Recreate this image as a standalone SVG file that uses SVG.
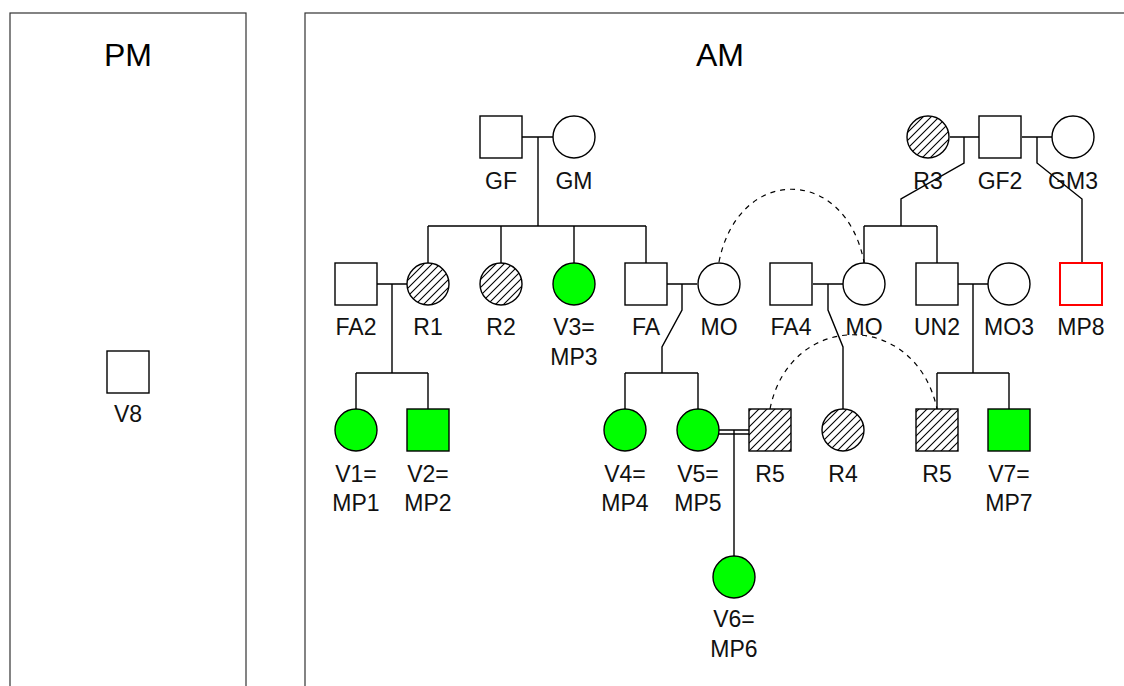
<svg xmlns="http://www.w3.org/2000/svg" width="1124" height="686" viewBox="0 0 1124 686">
<defs>
<pattern id="hatch" patternUnits="userSpaceOnUse" width="8" height="8">
<path d="M-1,1 L1,-1 M0,8 L8,0 M7,9 L9,7" stroke="#000" stroke-width="1.1"/>
</pattern>
</defs>
<style>
.box{fill:none;stroke:#333;stroke-width:1.2}
.title{font-family:"Liberation Sans",Arial,sans-serif;font-size:32px;fill:#000;text-anchor:middle}
.lbl{font-family:"Liberation Sans",Arial,sans-serif;font-size:23px;fill:#111;text-anchor:middle}
.s{fill:#fff;stroke:#000;stroke-width:1.4}
.g{fill:#00ff00;stroke:#000;stroke-width:1.4}
.h{fill:url(#hatch);stroke:#000;stroke-width:1.4}
.r{fill:#fff;stroke:#ff0000;stroke-width:2}
.ln{fill:none;stroke:#000;stroke-width:1.4}
.dash{fill:none;stroke:#000;stroke-width:1.2;stroke-dasharray:5,5}
</style>
<rect fill="#fff" x="0" y="0" width="1124" height="686"/>
<g id="pm-panel">
<rect class="box" x="10" y="13" width="236" height="700"/>
<text class="title" x="128" y="66">PM</text>
</g>
<g id="am-panel">
<rect class="box" x="305" y="13" width="840" height="700"/>
<text class="title" x="720" y="66">AM</text>
</g>
<g id="connectors">
<path class="ln" d="M522,137 H553 M538,137 V226 M428,226 H646 M428,226 V263 M501,226 V263 M574,226 V263 M646,226 V263"/>
<path class="ln" d="M950,137 H979 M964,137 V163 L901,199 V226 M864,226 H937 M864,226 V263 M937,226 V263"/>
<path class="ln" d="M1022,137 H1052 M1037,137 V163 L1082,199 V263"/>
<path class="ln" d="M377,284 H407 M392,284 V373 M356,373 H428 M356,373 V409 M428,373 V409"/>
<path class="ln" d="M667,284 H697 M682,284 V310 L662,347 V373 M625,373 H698 M625,373 V409 M698,373 V409"/>
<path class="ln" d="M813,284 H843 M828,284 V310 L843,347 V409"/>
<path class="ln" d="M958,284 H988 M973,284 V373 M937,373 H1009 M937,373 V409 M1009,373 V409"/>
<path class="ln" d="M719,430 H749 M719,434 H749 M734,430 V556" stroke-width="1.2"/>
<path class="dash" d="M719,262 C738,165 845,165 864,262"/>
<path class="dash" d="M770,409 C790,310 916,310 937,409"/>
</g>
<g id="V8"><rect class="s" x="107" y="351" width="42" height="42"/><text class="lbl" x="128" y="422">V8</text></g>
<g id="GF"><rect class="s" x="480" y="116" width="42" height="42"/><text class="lbl" x="501" y="189">GF</text></g>
<g id="GM"><circle class="s" cx="574" cy="137" r="21"/><text class="lbl" x="574" y="189">GM</text></g>
<g id="R3"><circle class="h" cx="928" cy="137" r="21"/><text class="lbl" x="928" y="189">R3</text></g>
<g id="GF2"><rect class="s" x="979" y="116" width="42" height="42"/><text class="lbl" x="1000" y="189">GF2</text></g>
<g id="GM3"><circle class="s" cx="1073" cy="137" r="21"/><text class="lbl" x="1073" y="189">GM3</text></g>
<g id="FA2"><rect class="s" x="335" y="263" width="42" height="42"/><text class="lbl" x="356" y="335">FA2</text></g>
<g id="R1"><circle class="h" cx="428" cy="284" r="21"/><text class="lbl" x="428" y="335">R1</text></g>
<g id="R2"><circle class="h" cx="501" cy="284" r="21"/><text class="lbl" x="501" y="335">R2</text></g>
<g id="V3"><circle class="g" cx="574" cy="284" r="21"/><text class="lbl" x="574" y="335">V3=</text><text class="lbl" x="574" y="365">MP3</text></g>
<g id="FA"><rect class="s" x="625" y="263" width="42" height="42"/><text class="lbl" x="646" y="335">FA</text></g>
<g id="MO"><circle class="s" cx="719" cy="284" r="21"/><text class="lbl" x="719" y="335">MO</text></g>
<g id="FA4"><rect class="s" x="770" y="263" width="42" height="42"/><text class="lbl" x="791" y="335">FA4</text></g>
<g id="MO2"><circle class="s" cx="864" cy="284" r="21"/><text class="lbl" x="864" y="335">MO</text></g>
<g id="UN2"><rect class="s" x="916" y="263" width="42" height="42"/><text class="lbl" x="937" y="335">UN2</text></g>
<g id="MO3"><circle class="s" cx="1009" cy="284" r="21"/><text class="lbl" x="1009" y="335">MO3</text></g>
<g id="MP8"><rect class="r" x="1060" y="263" width="42" height="42"/><text class="lbl" x="1081" y="335">MP8</text></g>
<g id="V1"><circle class="g" cx="356" cy="430" r="21"/><text class="lbl" x="356" y="482">V1=</text><text class="lbl" x="356" y="511">MP1</text></g>
<g id="V2"><rect class="g" x="407" y="409" width="42" height="42"/><text class="lbl" x="428" y="482">V2=</text><text class="lbl" x="428" y="511">MP2</text></g>
<g id="V4"><circle class="g" cx="625" cy="430" r="21"/><text class="lbl" x="625" y="482">V4=</text><text class="lbl" x="625" y="511">MP4</text></g>
<g id="V5"><circle class="g" cx="698" cy="430" r="21"/><text class="lbl" x="698" y="482">V5=</text><text class="lbl" x="698" y="511">MP5</text></g>
<g id="R5"><rect class="h" x="749" y="409" width="42" height="42"/><text class="lbl" x="770" y="482">R5</text></g>
<g id="R4"><circle class="h" cx="843" cy="430" r="21"/><text class="lbl" x="843" y="482">R4</text></g>
<g id="R5b"><rect class="h" x="916" y="409" width="42" height="42"/><text class="lbl" x="937" y="482">R5</text></g>
<g id="V7"><rect class="g" x="988" y="409" width="42" height="42"/><text class="lbl" x="1009" y="482">V7=</text><text class="lbl" x="1009" y="511">MP7</text></g>
<g id="V6"><circle class="g" cx="734" cy="577" r="21"/><text class="lbl" x="734" y="627">V6=</text><text class="lbl" x="734" y="657">MP6</text></g>
</svg>
